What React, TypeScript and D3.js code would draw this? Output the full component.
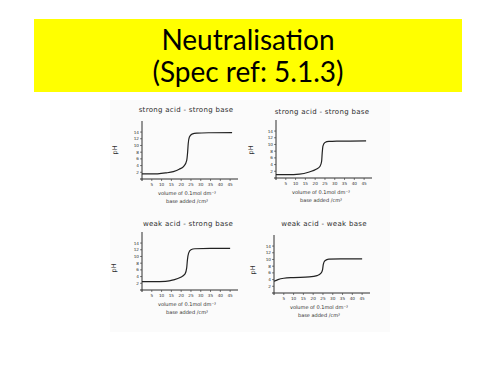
import React from "react";
import * as d3 from "d3";

const titleLines = ["Neutralisation", "(Spec ref: 5.1.3)"];
const panelTitles = ["strong acid - strong base", "strong acid - strong base", "weak acid - strong base", "weak acid - weak base"];
const xTicks = [5, 10, 15, 20, 25, 30, 35, 40, 45];
const yTicks = [2, 4, 6, 8, 10, 12, 14];
const xLabel1 = "volume of 0.1mol dm⁻³";
const xLabel2 = "base added /cm³";

const curveTL: [number, number][] = [[0, 1.5], [5, 1.5], [8, 1.55], [12, 1.8], [16, 2.2], [19, 2.9], [21.5, 3.9], [22.8, 5.5], [23.3, 8], [23.6, 10.5], [24.2, 12.5], [25.5, 13.4], [28, 13.7], [35, 13.8], [46, 13.85]];
const curveTR: [number, number][] = [[0, 1.0], [6, 1.0], [12, 1.15], [17, 1.8], [20.5, 2.6], [22.5, 3.5], [23.3, 5], [23.6, 7.5], [24, 9.6], [25, 10.6], [27, 10.9], [32, 11.0], [46, 11.1]];
const curveBL: [number, number][] = [[0, 2.5], [6, 2.5], [12, 2.6], [16, 3.0], [19.5, 3.7], [22, 4.8], [22.8, 6.5], [23.2, 9], [23.8, 11], [25, 12], [27, 12.3], [35, 12.4], [45, 12.4]];
const curveBR: [number, number][] = [[0, 3.5], [2, 4.0], [5, 4.4], [10, 4.6], [18, 4.8], [22, 5.2], [24, 5.9], [24.8, 7], [25.2, 8.6], [26, 9.6], [28, 10.1], [34, 10.2], [45, 10.2]];

const panels = [
  { ox: 142, oy: 179, title: panelTitles[0], tx: 186, ty: 112, px: 117, py: 150, data: curveTL },
  { ox: 276, oy: 178, title: panelTitles[1], tx: 322, ty: 114, px: 253, py: 150, data: curveTR },
  { ox: 142, oy: 290, title: panelTitles[2], tx: 188, ty: 226, px: 116, py: 268, data: curveBL },
  { ox: 274, oy: 293, title: panelTitles[3], tx: 324, ty: 226, px: 255, py: 270, data: curveBR },
];

const hand = "'DejaVu Sans', sans-serif";
const ink = "#2e2e2e";

function Panel({ p }: { p: typeof panels[number] }) {
  const x = d3.scaleLinear().domain([0, 48]).range([p.ox, p.ox + 94]);
  const y = d3.scaleLinear().domain([0, 17]).range([p.oy, p.oy - 57]);
  const line = d3.line<[number, number]>().x((d) => x(d[0])).y((d) => y(d[1])).curve(d3.curveMonotoneX);
  return (
    <g>
      <text x={p.tx} y={p.ty} textAnchor="middle" fontFamily={hand} fontSize={7} fill={ink} letterSpacing={0.3}>{p.title}</text>
      <line x1={p.ox} x2={p.ox} y1={p.oy + 2} y2={p.oy - 58} stroke={ink} strokeWidth={1} />
      <line x1={p.ox - 2} x2={p.ox + 96} y1={p.oy} y2={p.oy} stroke={ink} strokeWidth={1} />
      {yTicks.map((t) => (
        <g key={t}>
          <line x1={p.ox - 2} x2={p.ox} y1={y(t)} y2={y(t)} stroke={ink} strokeWidth={0.6} />
          <text x={p.ox - 3} y={y(t) + 1.5} textAnchor="end" fontFamily={hand} fontSize={4.2} fill={ink}>{t}</text>
        </g>
      ))}
      {xTicks.map((t) => (
        <g key={t}>
          <line x1={x(t)} x2={x(t)} y1={p.oy} y2={p.oy + 2} stroke={ink} strokeWidth={0.6} />
          <text x={x(t)} y={p.oy + 7} textAnchor="middle" fontFamily={hand} fontSize={4.2} fill={ink}>{t}</text>
        </g>
      ))}
      <text x={p.ox + 45} y={p.oy + 16} textAnchor="middle" fontFamily={hand} fontSize={5} fill={ink}>{xLabel1}</text>
      <text x={p.ox + 45} y={p.oy + 24} textAnchor="middle" fontFamily={hand} fontSize={5} fill={ink}>{xLabel2}</text>
      <text transform={`translate(${p.px},${p.py}) rotate(-90)`} textAnchor="middle" fontFamily={hand} fontSize={6.5} fill={ink}>pH</text>
      <path d={line(p.data) || ""} fill="none" stroke="#222" strokeWidth={1.2} />
    </g>
  );
}

export default function App() {
  return (
    <svg width={500} height={375} style={{ position: "absolute", left: 0, top: 0 }}>
      <rect x={0} y={0} width={500} height={375} fill="#fff" />
      <rect x={34} y={19} width={428} height={73} fill="#FFFF00" />
      <text x={248} y={50} textAnchor="middle" fontFamily="Lato, 'Open Sans', sans-serif" fontSize={28} fill="#000">{titleLines[0]}</text>
      <text x={248} y={82} textAnchor="middle" fontFamily="Lato, 'Open Sans', sans-serif" fontSize={28} fill="#000">{titleLines[1]}</text>
      <rect x={110} y={100} width={280} height={232} fill="#fbfbfb" />
      {panels.map((p, i) => <Panel key={i} p={p} />)}
    </svg>
  );
}
